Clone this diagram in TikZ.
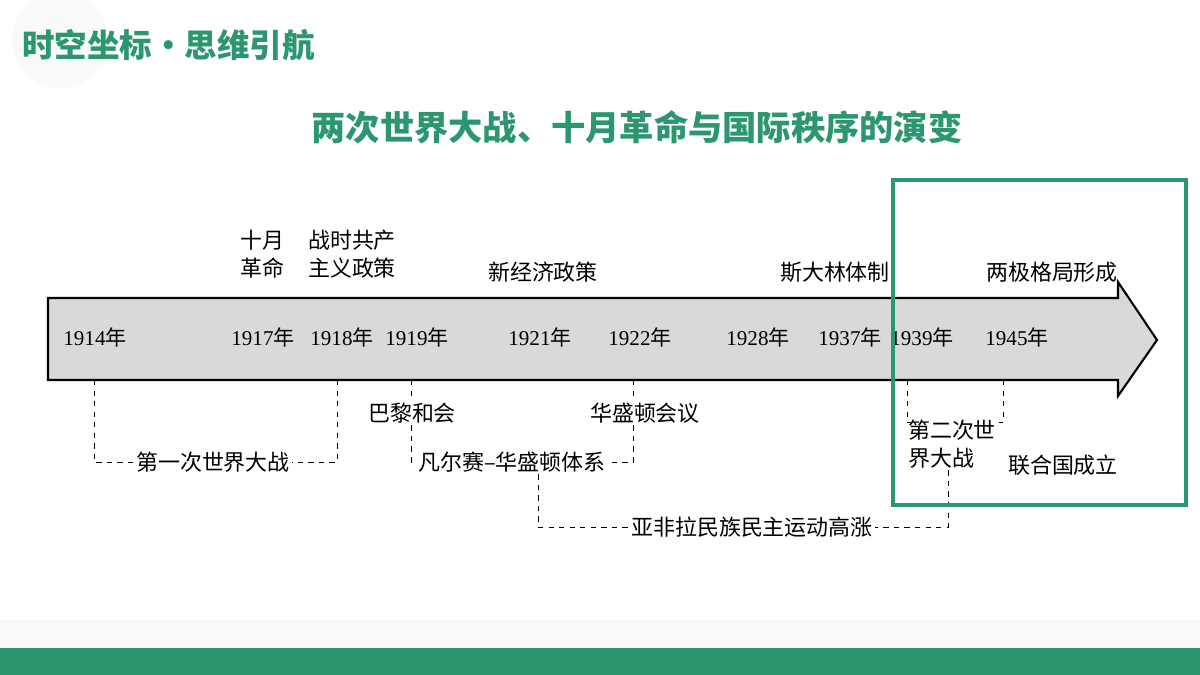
\documentclass[tikz,border=0pt]{standalone}
\usepackage{fontspec}
\setmainfont{Liberation Serif}
\newfontfamily\cjk{Noto Sans CJK SC}
\usetikzlibrary{positioning,calc}

\begin{document}
\begin{tikzpicture}[x=0.02cm,y=-0.02cm]
        \definecolor{navgreen}{RGB}{44,150,110}
        \definecolor{bargray}{RGB}{217,217,217}

        \tikzset{
            year/.style={font=\fontsize{12}{12}\selectfont, inner sep=1pt},
            evt/.style={font=\cjk\fontsize{12.5}{16}\selectfont, align=center, inner sep=1pt},
            link/.style={dashed, thin},
        }

        % background and frame
        \useasboundingbox (0,0) rectangle (1200,675);
        \fill[gray!5] (60,40) circle (48);
        \fill[gray!5] (0,620) rectangle (1200,648);
        \fill[navgreen] (0,648) rectangle (1200,675);

        % headings
        \node[font=\cjk\bfseries\fontsize{18.5}{18.5}\selectfont, text=navgreen, anchor=west, inner sep=0pt] (head) at (22,45) {时空坐标•思维引航};
        \node[font=\cjk\bfseries\fontsize{19.5}{19.5}\selectfont, text=navgreen] (title) at (637,127) {两次世界大战、十月革命与国际秩序的演变};

        % timeline arrow
        \draw[fill=bargray, line width=1.2pt] (48,298) -- (1118,298) -- (1118,282) -- (1157,340)
            -- (1118,396) -- (1118,380) -- (48,380) -- cycle;

        % years
        \foreach \yr/\px in {1914/95, 1917/263, 1918/342, 1919/417, 1921/540,
                             1922/640, 1928/758, 1937/850, 1939/922, 1945/1017}
            \node[year] (y\yr) at (\px,337) {\yr{\cjk 年}};

        % events above
        \node[evt] (oct) at (262,254) {十月\\革命};
        \node[evt] (wcp) at (352,254) {战时共产\\主义政策};
        \node[evt] (nep) at (543,272) {新经济政策};
        \node[evt] (stal) at (835,272) {斯大林体制};
        \node[evt] (bipo) at (1052,272) {两极格局形成};

        % events below
        \node[evt] (ww1) at (213,462) {第一次世界大战};
        \node[evt] (paris) at (412,413) {巴黎和会};
        \node[evt] (wash) at (645,413) {华盛顿会议};
        \node[evt] (vws) at (512,462) {凡尔赛–华盛顿体系};
        \node[evt] (afro) at (752,527) {亚非拉民族民主运动高涨};
        \node[evt, align=left] (ww2) at (952,444) {第二次世\\界大战};
        \node[evt] (un) at (1063,465) {联合国成立};

        \coordinate (c14) at (94,380);
        \coordinate (c18) at (337,380);
        \coordinate (c19) at (411,380);
        \coordinate (c22) at (633,380);
        \coordinate (c39) at (907,380);
        \coordinate (c45) at (1003,380);

        % dashed brackets
        \draw[link] (c14) |- (ww1.west);
        \draw[link] (c18) |- (ww1.east);
        \draw[link] (c19) -- (paris.north -| c19);
        \draw[link] (paris.south -| c19) |- (vws.west);
        \draw[link] (c22) -- (wash.north -| c22);
        \draw[link] (wash.south -| c22) |- (vws.east);
        \draw[link] (vws.south -| 538,0) |- (afro.west);
        \draw[link] (ww2.south -| 948,0) |- (afro.east);
        \draw[link] (c39) |- ++(4,42);
        \draw[link] (c45) |- ++(-4,42);

        % highlight frame
        \draw[navgreen, line width=2.2pt] (893,180) rectangle (1186,505);
\end{tikzpicture}
\end{document}
